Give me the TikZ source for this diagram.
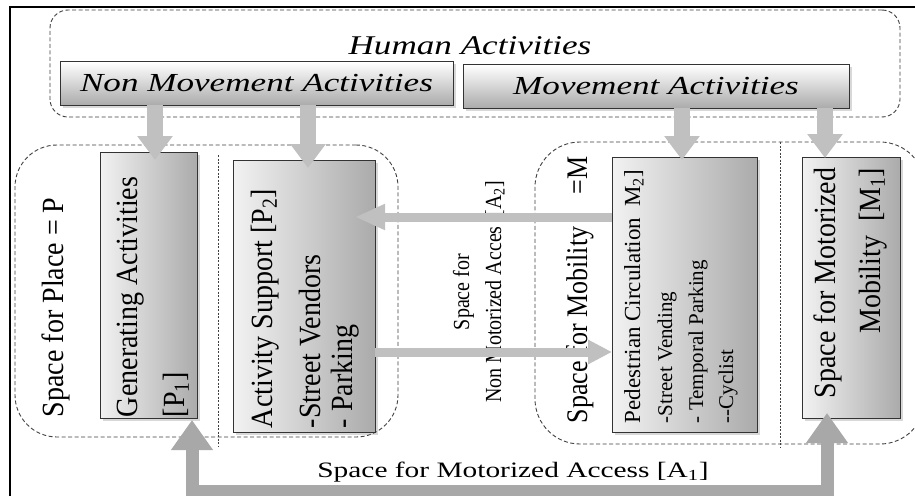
\documentclass[tikz,border=0pt]{standalone}
\usepackage{fontspec}
\setmainfont{Liberation Serif}
\usepackage{graphicx}
\usetikzlibrary{arrows.meta,shadows,calc}
\definecolor{arrgray}{RGB}{192,192,192}
\definecolor{bigarr}{RGB}{168,168,168}
\newcommand{\fsz}[1]{\fontsize{#1}{#1}\selectfont}
\newcommand{\tallr}[2]{\scalebox{1}[#1]{#2}}
\begin{document}
\begin{tikzpicture}[x=1pt,y=-1pt,
  dbox/.style={draw=black!75, line width=0.9pt, dash pattern=on 4pt off 2.5pt, inner sep=0pt, outer sep=0pt, anchor=north west},
  divider/.style={draw=black!75, line width=0.9pt, dash pattern=on 2pt off 1.5pt},
  hbox/.style={draw=black!80, line width=1pt, top color=white, bottom color=black!33, drop shadow={shadow xshift=2.5pt, shadow yshift=-2.5pt, opacity=0.3}, inner sep=0pt, outer sep=0pt, anchor=north west, font=\fsz{26}},
  vbox/.style={draw=black!80, line width=1pt, left color=black!5, right color=black!33, drop shadow={shadow xshift=2.5pt, shadow yshift=-2.5pt, opacity=0.3}, inner sep=0pt, outer sep=0pt, anchor=north west},
  rtext/.style={rotate=90, inner sep=0pt, outer sep=0pt, anchor=base west},
  downarrow/.style={draw=arrgray, line width=16pt, -{Triangle[width=34pt,length=24pt]}},
  sidearrow/.style={draw=arrgray, line width=9pt, -{Triangle[width=24pt,length=30pt]}},
  accessarrow/.style={draw=bigarr, line width=13pt, {Triangle[width=40pt,length=30pt]}-{Triangle[width=40pt,length=30pt]}},
]
\useasboundingbox (0,0) rectangle (915,495);
\clip (0,0) rectangle (915,495);
\fill[white] (0,0) rectangle (915,495);
% outer frame
\draw[line width=1.6pt] (10,510) -- (10,7) -- (930,7);
% dashed groups
\node[dbox, rounded corners=18pt, minimum width=850pt, minimum height=107pt] (human) at (50,10) {};
\node[dbox, rounded corners=42pt, minimum width=383pt, minimum height=292pt] (place) at (15,145) {};
\node[dbox, rounded corners=45pt, minimum width=390pt, minimum height=302pt] (mobility) at (535,142) {};
\draw[divider] (218,155) -- (218,447);
\draw[divider] (780,142) -- (780,447);
% top labels and boxes
\node[anchor=base, inner sep=0pt, font=\fsz{26}] (humanlbl) at (470,55) {\scalebox{1.35}[1.04]{\itshape Human Activities}};
\node[hbox, minimum width=393pt, minimum height=43pt] (nonmov) at (60,62) {\scalebox{1.35}[1]{\itshape Non Movement Activities}};
\node[hbox, minimum width=386pt, minimum height=43pt] (mov) at (463,65) {\scalebox{1.35}[1]{\itshape Movement Activities}};
% vertical boxes
\node[vbox, minimum width=97pt, minimum height=266pt] (gen) at (100,152) {};
\node[vbox, minimum width=142pt, minimum height=272pt] (act) at (233,160) {};
\node[vbox, minimum width=145pt, minimum height=275pt] (ped) at (612,157) {};
\node[vbox, minimum width=98pt, minimum height=261pt] (motor) at (802,157) {};
% rotated texts
\node[rtext, font=\fsz{28}] (placelbl) at (63,417) {\tallr{1.1}{Space for Place = P}};
\node[rtext, font=\fsz{28}] (gen1) at (137,417) {\tallr{1.1}{Generating Activities}};
\node[rtext, font=\fsz{28}] (gen2) at (184,417) {\tallr{1.1}{[P\textsubscript{1}]}};
\node[rtext, font=\fsz{28}] (act1) at (272,428) {\tallr{1.1}{Activity Support [P\textsubscript{2}]}};
\node[rtext, font=\fsz{28}] (act2) at (320,428) {\tallr{1.1}{-Street Vendors}};
\node[rtext, font=\fsz{28}] (act3) at (352,428) {\tallr{1.1}{- Parking}};
\node[rtext, anchor=base, font=\fsz{20}] (a2one) at (469,292) {\tallr{1.15}{Space for}};
\node[rtext, anchor=base, font=\fsz{20}] (a2two) at (501,292) {\tallr{1.15}{Non Motorized Acces\enspace[A\textsubscript{2}]}};
\node[rtext, font=\fsz{26}] (moblbl) at (587,423) {\tallr{1.15}{Space for Mobility\hspace{32pt}=M}};
\node[rtext, font=\fsz{23}] (ped1) at (640,423) {Pedestrian Circulation\enspace M\textsubscript{2}]};
\node[rtext, font=\fsz{21}] (ped2) at (672,423) {-Street Vending};
\node[rtext, font=\fsz{21}] (ped3) at (703,423) {- Temporal Parking};
\node[rtext, font=\fsz{21}] (ped4) at (733,423) {-{}-Cyclist};
\node[rtext, anchor=base east, font=\fsz{28}] (mot1) at (835,168) {\tallr{1.1}{Space for Motorized}};
\node[rtext, anchor=base east, font=\fsz{28}] (mot2) at (880,168) {\tallr{1.1}{Mobility\enspace[M\textsubscript{1}]}};
\node[anchor=base, inner sep=0pt, font=\fsz{22}] (a1lbl) at (513,477) {\scalebox{1.336}[1]{Space for Motorized Access [A\textsubscript{1}]}};
% arrows from activities
\draw[downarrow] ([xshift=6.5pt]gen.north |- nonmov.south) -- ([xshift=6.5pt,yshift=-8pt]gen.north);
\draw[downarrow] ([xshift=4pt]act.north |- nonmov.south) -- ([xshift=4pt,yshift=-8pt]act.north);
\draw[downarrow] ([xshift=-2.5pt]ped.north |- mov.south) -- ([xshift=-2.5pt,yshift=-3pt]ped.north);
\draw[downarrow] ([xshift=-26pt]motor.north |- mov.south) -- ([xshift=-26pt,yshift=-1pt]motor.north);
% non motorized access arrows
\coordinate (a2from) at ($(ped.west)+(0,-77.5)$);
\draw[sidearrow] (a2from) -- ([xshift=-20pt]a2from -| act.east);
\coordinate (a2to) at ($(act.east)+(0,56)$);
\draw[sidearrow, -{Triangle[width=23pt,length=24pt]}] (a2to) -- (a2to -| ped.west);
% motorized access arrow
\draw[accessarrow] ([xshift=-5pt,yshift=-2pt]gen.south east) -- ++(0,71) -| ([xshift=25pt,yshift=5pt]motor.south west);
\end{tikzpicture}
\end{document}
